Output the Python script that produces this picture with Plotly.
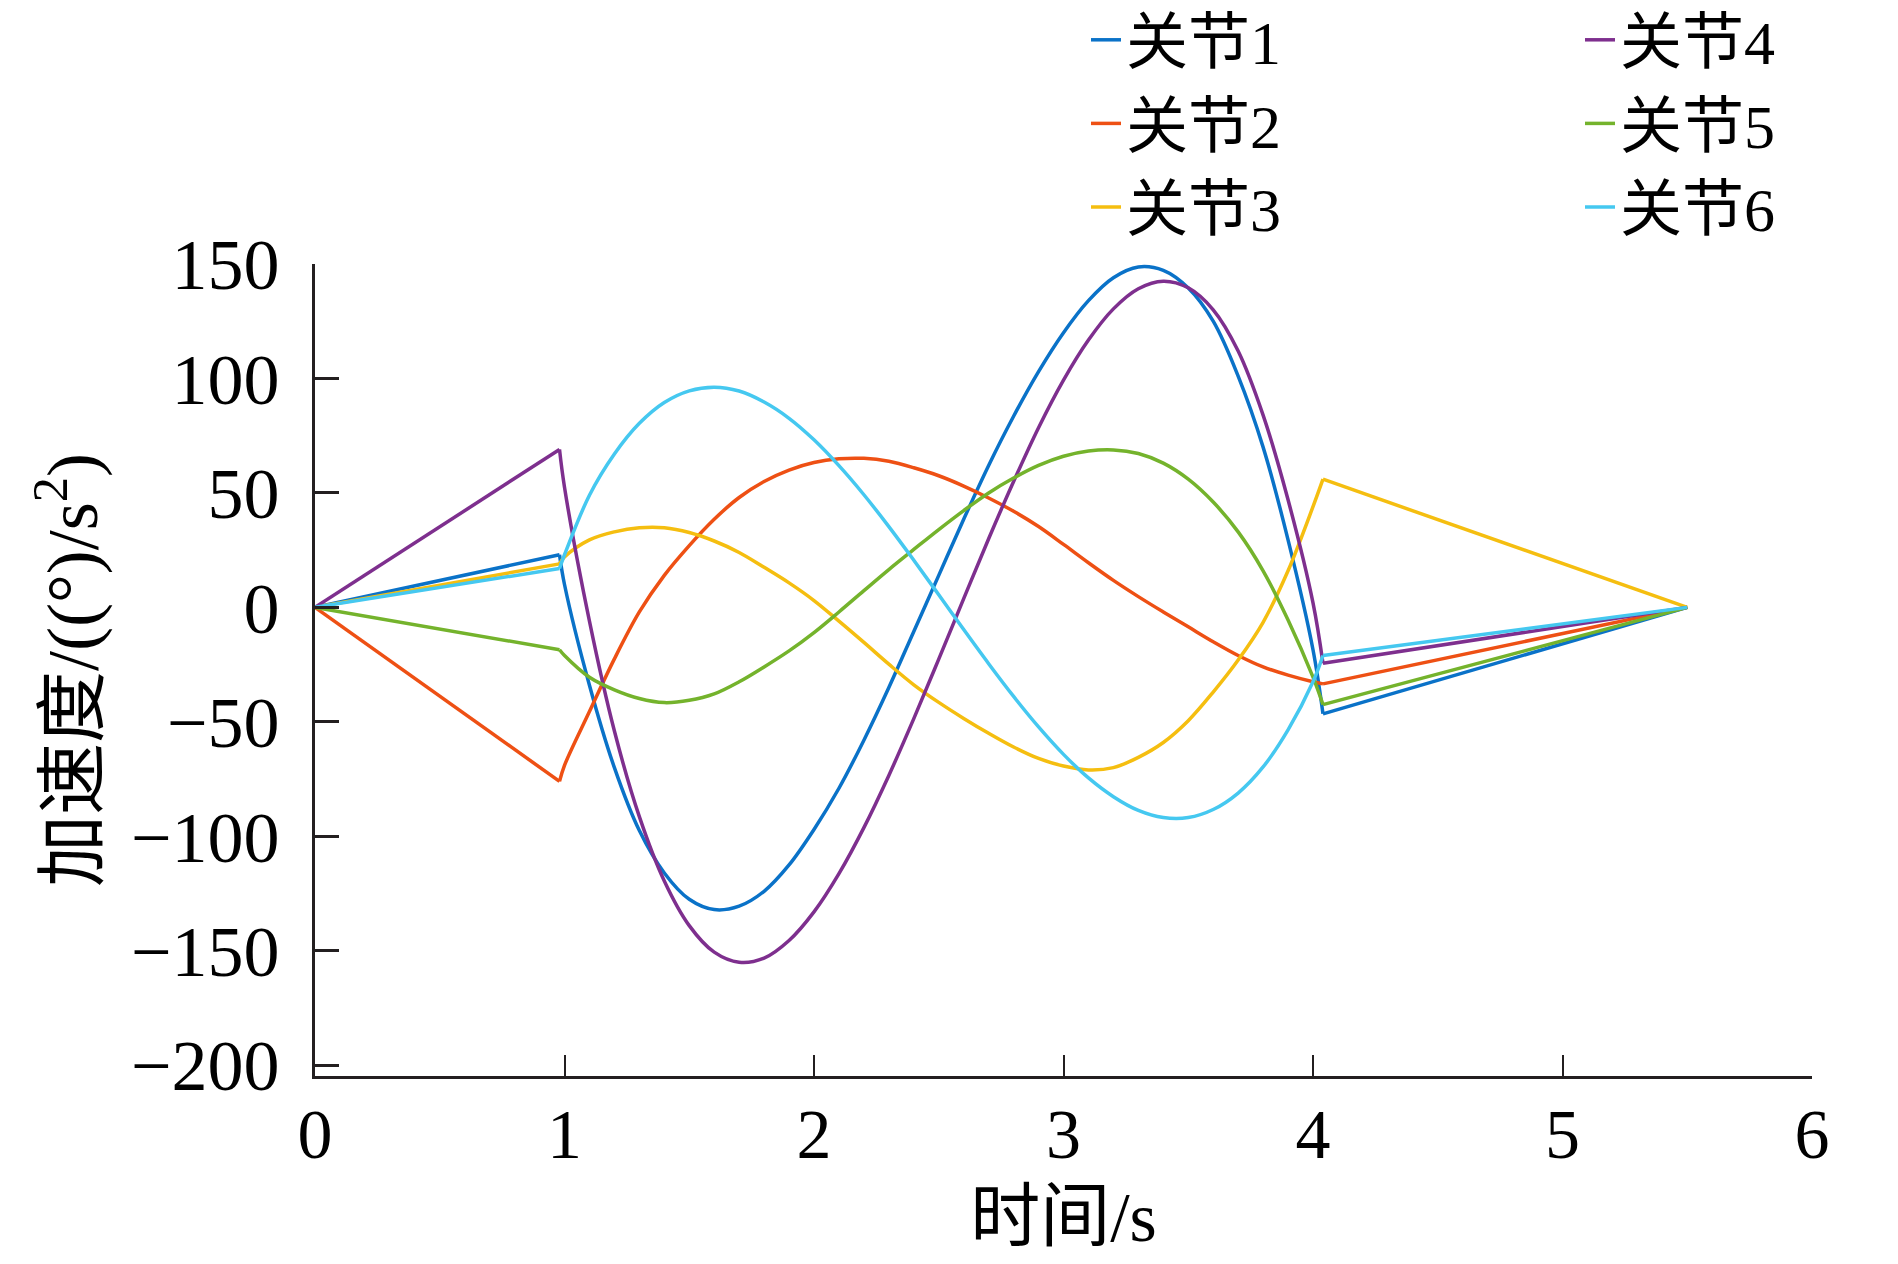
import plotly.graph_objects as go

# ---- data ----
time_s = [0, 0.98, 1.0, 1.1, 1.2, 1.3, 1.4, 1.5, 1.6, 1.7, 1.8, 1.9, 2.0, 2.1, 2.2, 2.3,
          2.4, 2.5, 2.6, 2.7, 2.8, 2.9, 3.0, 3.1, 3.2, 3.3, 3.4, 3.5, 3.6, 3.7, 3.8, 3.9,
          4.0, 4.04, 5.5]

joint1 = [0, 23, 10, -34, -70, -97.5, -116, -127.5, -132, -130.5, -124, -112.5, -97, -79,
          -58, -35, -10.5, 14, 38.5, 62, 83.5, 103, 120, 134, 144, 148.7, 147.2, 139.5,
          125, 101, 70, 29.5, -18.5, -46.5, 0]
joint2 = [0, -76, -69, -45.5, -22.5, -2, 14, 27, 38.5, 48, 55, 60, 63.3, 64.9, 65.1, 63.8,
          61, 57.5, 53, 47.8, 42, 35.3, 27.5, 19.5, 11.8, 4.7, -2, -8.5, -15, -21, -26,
          -29.6, -32.5, -33.4, 0]
joint3 = [0, 19, 22, 29.5, 33, 34.8, 34.8, 32.7, 29, 24, 17.5, 10.7, 3, -6, -15.3, -24.8,
          -33.8, -41.5, -48.5, -55, -61, -66, -69.3, -71, -70, -65.5, -59, -49.5, -37,
          -23, -6.5, 16, 44, 56, 0]
joint4 = [0, 69, 52.5, -6, -54, -91.4, -119.5, -139, -150.6, -155, -153.2, -145.5, -133,
          -116.3, -96.2, -73.4, -48.6, -22.6, 3.8, 30, 55, 78.5, 99.3, 116.8, 130.4, 139.2,
          142.5, 139.6, 130, 112, 84, 47, 2, -24.4, 0]
joint5 = [0, -18.5, -21, -30.5, -36, -39.8, -41.6, -40.6, -37.8, -32.5, -26, -19, -11, -2,
          7.3, 16.5, 25.3, 34, 42.3, 50, 56.5, 62, 66, 68.3, 68.8, 67.2, 63, 56, 46, 33,
          16, -5.5, -30.5, -42.5, 0]
joint6 = [0, 17, 23, 49, 67, 80.4, 89.5, 94.6, 96.2, 94.5, 89.7, 82.6, 73.2, 61.9, 49.2,
          35.3, 20.6, 5.5, -9.7, -24.6, -38.9, -52.2, -64.2, -74.5, -82.7, -88.7, -91.8,
          -91.8, -88.3, -81.1, -69.7, -53.5, -32.5, -21, 0]

series_names = ["关节1", "关节2", "关节3", "关节4", "关节5", "关节6"]
series_values = [joint1, joint2, joint3, joint4, joint5, joint6]
series_colors = ["#0A72C8", "#EE5014", "#F5BE10", "#7E2F8E", "#74B32C", "#45C8F0"]
legend_ids = ["legend", "legend", "legend", "legend2", "legend2", "legend2"]

x_ticks = [0, 1, 2, 3, 4, 5, 6]
y_ticks = [-200, -150, -100, -50, 0, 50, 100, 150]

FONT = "Liberation Serif, Times New Roman, Noto Sans CJK SC, serif"
AXIS_COLOR = "#231f20"
LW = 3.5
W, H = 1882, 1248  # page body keeps an 8 px margin inside the 1898x1264 window
ML, MR, MT, MB = 307, 78, 256, 180
PW, PH = W - ML - MR, H - MT - MB

fig = go.Figure()
for name, vals, col, lg in zip(series_names, series_values, series_colors, legend_ids):
    # straight ramps at both ends (first two and last two samples)
    ramp_x = time_s[:2] + [None] + time_s[-2:]
    ramp_y = vals[:2] + [None] + vals[-2:]
    fig.add_trace(go.Scatter(
        x=ramp_x, y=ramp_y, mode="lines", name=name, legendgroup=name,
        line=dict(color=col, width=LW), legend=lg, showlegend=False,
        connectgaps=False, hoverinfo="skip",
    ))
    # smooth middle part
    fig.add_trace(go.Scatter(
        x=time_s[1:-1], y=vals[1:-1], mode="lines", name=name, legendgroup=name,
        line=dict(color=col, width=LW, shape="spline", smoothing=1.0), legend=lg,
    ))

legend_top = 1 + (MT + 15) / PH

fig.update_layout(
    template="none",
    width=W, height=H,
    margin=dict(l=ML, r=MR, t=MT, b=MB, pad=0, autoexpand=False),
    plot_bgcolor="white", paper_bgcolor="white",
    font=dict(family=FONT, size=70, color="black"),
    showlegend=True,
    xaxis=dict(
        range=[0, 6], tickvals=x_ticks, ticks="inside", ticklen=21, tickwidth=2,
        tickcolor=AXIS_COLOR, showline=True, linewidth=3, linecolor=AXIS_COLOR,
        showgrid=False, zeroline=False, ticklabelstandoff=-5, automargin=False,
        tickfont=dict(family=FONT, size=70, color="black"),
        title=dict(text="时间/s", font=dict(family=FONT, size=70, color="black"), standoff=20),
    ),
    yaxis=dict(
        range=[-204.7, 150], tickvals=y_ticks, ticks="inside", ticklen=24, tickwidth=3,
        tickcolor=AXIS_COLOR, showline=True, linewidth=3, linecolor=AXIS_COLOR,
        showgrid=False, zeroline=False, ticklabelstandoff=18, automargin=False,
        tickfont=dict(family=FONT, size=72, color="black"),
        title=dict(text="加速度/((°)/s<sup>2</sup>)",
                   font=dict(family=FONT, size=72, color="black"), standoff=10),
    ),
    legend=dict(
        xref="paper", yref="paper", x=(1078 - ML) / PW, y=legend_top,
        xanchor="left", yanchor="top", bgcolor="rgba(0,0,0,0)",
        font=dict(family=FONT, size=62, color="black"), tracegroupgap=0,
    ),
    legend2=dict(
        xref="paper", yref="paper", x=(1572 - ML) / PW, y=legend_top,
        xanchor="left", yanchor="top", bgcolor="rgba(0,0,0,0)",
        font=dict(family=FONT, size=62, color="black"), tracegroupgap=0,
    ),
)

fig.write_html("out.html")
